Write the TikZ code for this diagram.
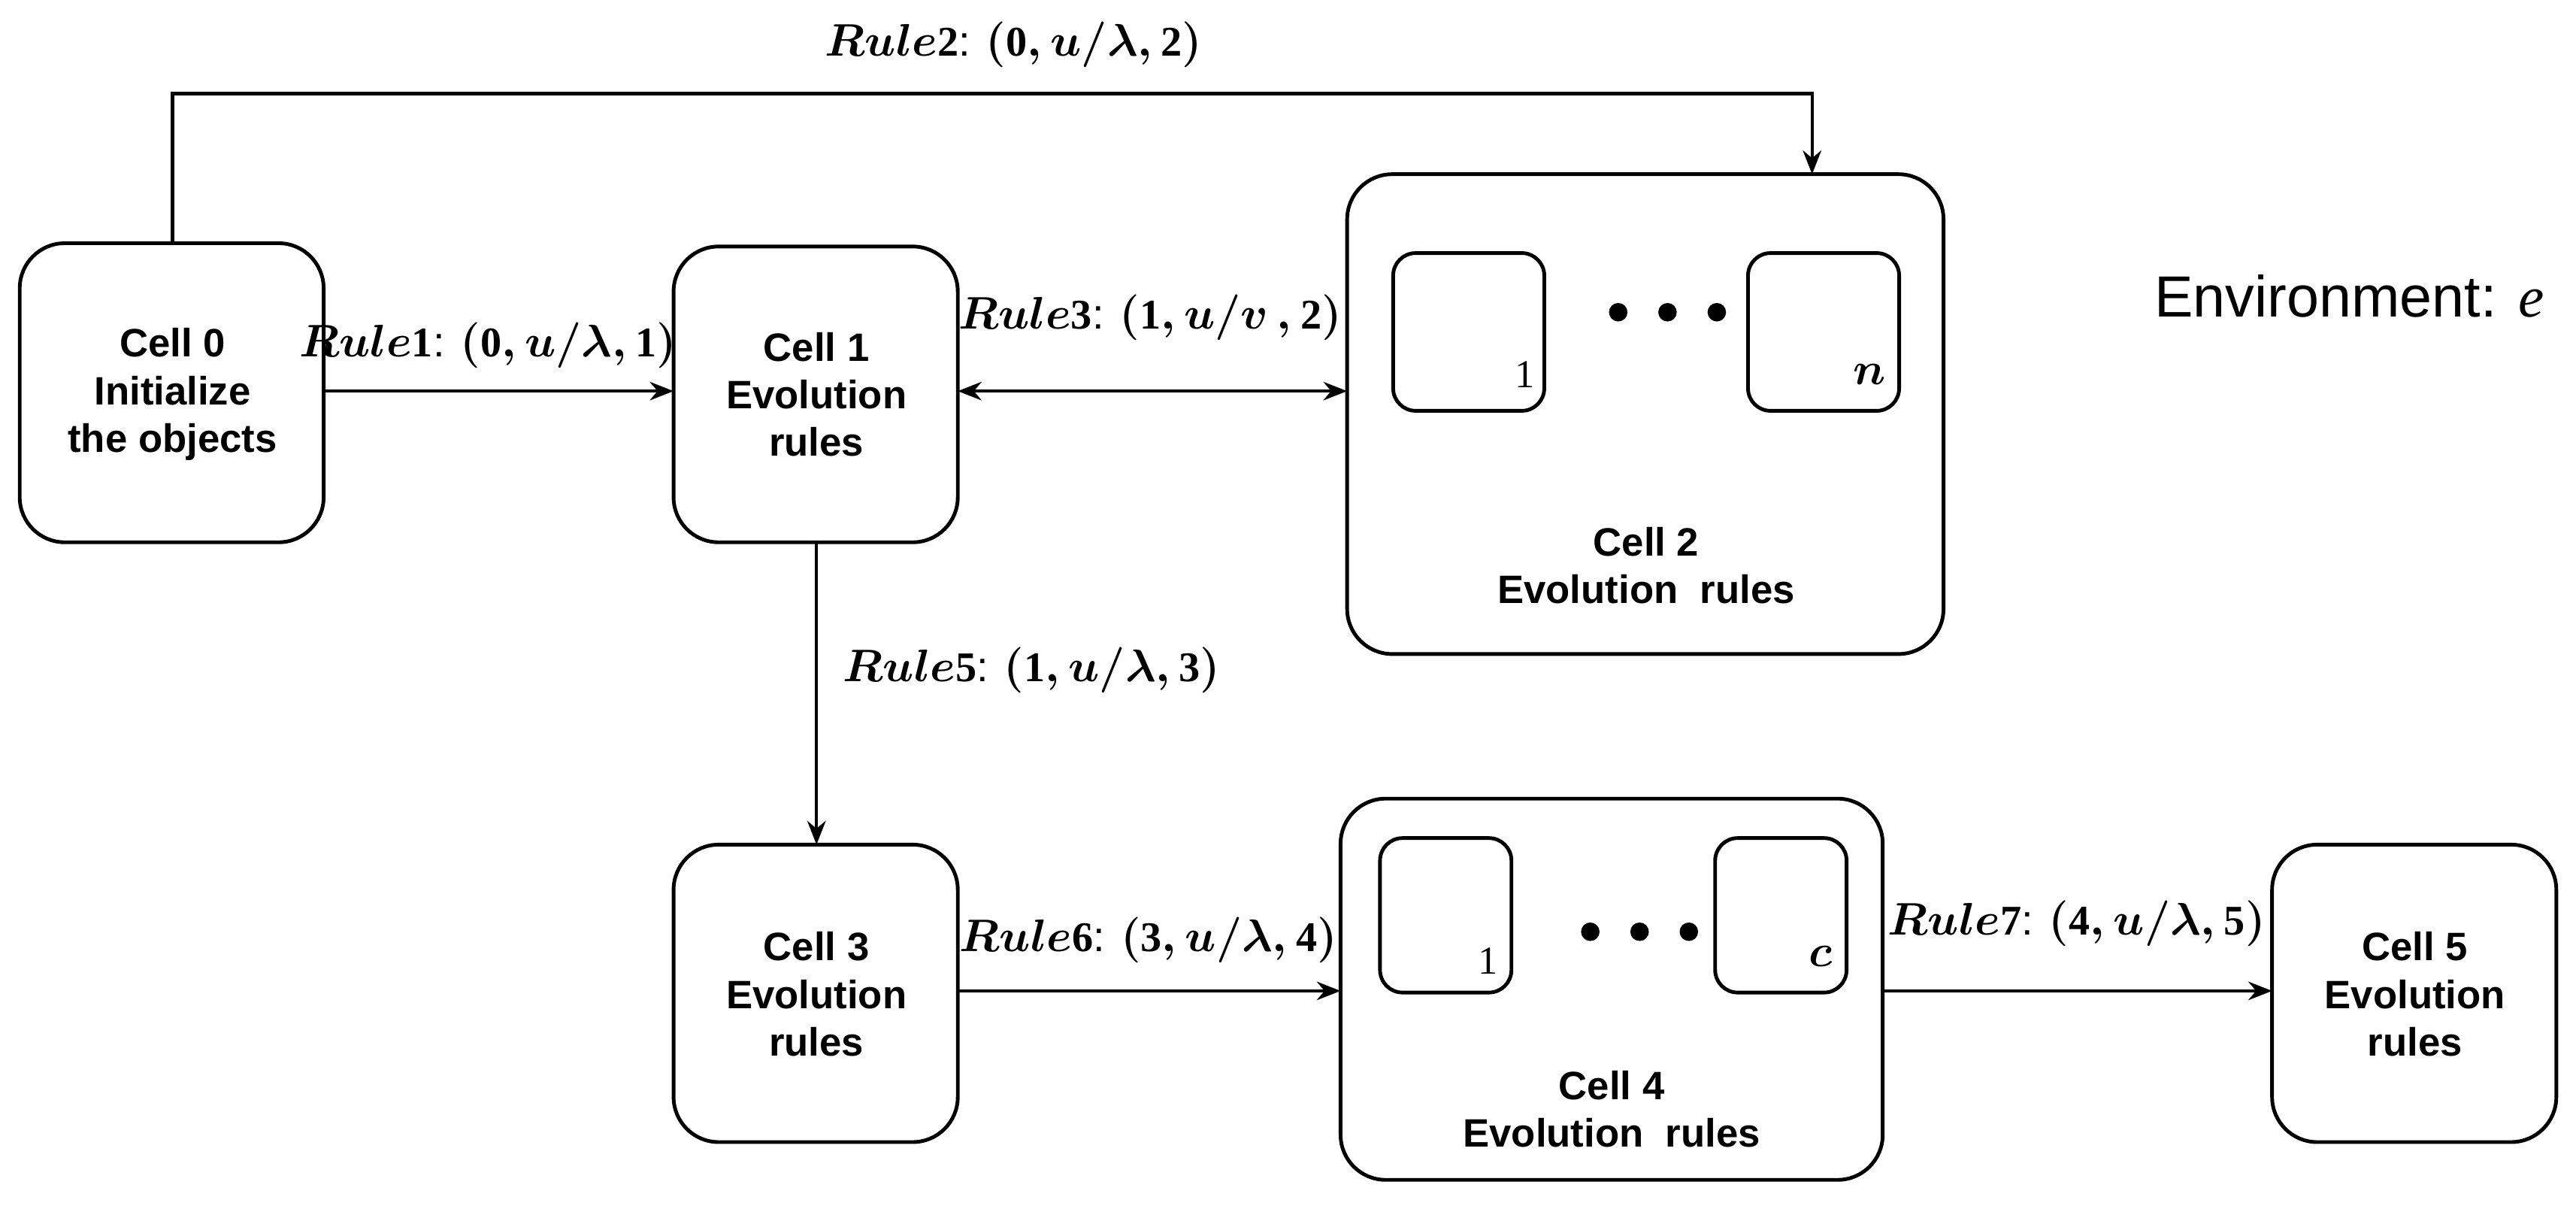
\documentclass[tikz,border=0pt]{standalone}
\usepackage{amsmath,bm}
\usepackage{fontspec}
\setmainfont{Liberation Sans}
\newfontfamily\serifx{Liberation Serif}
\newcommand{\dg}[1]{\text{\serifx\bfseries #1}}
\usetikzlibrary{arrows.meta}
\begin{document}
\begin{tikzpicture}[x=0.02186cm,y=-0.02186cm,
  cell/.style={draw,line width=1.4pt,rounded corners=0.6cm},
  inner/.style={draw,line width=1.4pt,rounded corners=0.3cm},
  txt/.style={font=\fontsize{15}{18}\selectfont\bfseries,align=center},
  lbl/.style={font=\fontsize{16}{18}\selectfont\boldmath},
  arr/.style={line width=1.2pt,-{Stealth[length=9pt,width=7pt]}},
  dot/.style={circle,fill,inner sep=0pt,minimum size=7pt}]
\useasboundingbox (0,0) rectangle (1568,739);
% cells
\draw[cell] (12,148) rectangle (197,330);
\node[txt] (c0) at (105,240) {Cell 0\\Initialize\\the objects};
\coordinate (c0r) at (197,238); \coordinate (c0t) at (105,148);
\draw[cell] (410,150) rectangle (583,330);
\node[txt] (c1) at (497,240) {Cell 1\\Evolution\\rules};
\coordinate (c1l) at (410,238); \coordinate (c1r) at (583,238); \coordinate (c1b) at (497,330);
\draw[cell] (820,106) rectangle (1183,398);
\coordinate (c2l) at (820,238); \coordinate (c2t) at (1103,106);
\draw[inner] (848,154) rectangle (940,250);
\draw[inner] (1064,154) rectangle (1156,250);
\node[font=\fontsize{15}{18}\selectfont\serifx] (n1) at (928,228) {1};
\node[lbl] (nn) at (1138,228) {$n$};
\node[dot] (d1) at (985,190) {}; \node[dot] (d2) at (1015,190) {}; \node[dot] (d3) at (1045,190) {};
\node[txt] (c2) at (1002,344) {Cell 2\\Evolution\ \ rules};
\node[font=\fontsize{22}{26}\selectfont] (env) at (1430,180) {Environment: \serifx\itshape e};
\draw[cell] (410,514) rectangle (583,695);
\node[txt] (c3) at (497,605) {Cell 3\\Evolution\\rules};
\coordinate (c3t) at (497,514); \coordinate (c3r) at (583,603);
\draw[cell] (816,486) rectangle (1146,718);
\coordinate (c4l) at (816,603); \coordinate (c4r) at (1146,603);
\draw[inner] (840,510) rectangle (920,604);
\draw[inner] (1044,510) rectangle (1124,604);
\node[font=\fontsize{15}{18}\selectfont\serifx] (m1) at (906,585) {1};
\node[lbl] (mc) at (1108,582) {$c$};
\node[dot] (e1) at (968,567) {}; \node[dot] (e2) at (998,567) {}; \node[dot] (e3) at (1028,567) {};
\node[txt] (c4) at (981,675) {Cell 4\\Evolution\ \ rules};
\draw[cell] (1383,514) rectangle (1556,695);
\node[txt] (c5) at (1470,605) {Cell 5\\Evolution\\rules};
\coordinate (c5l) at (1383,603);
% arrows
\draw[arr] (c0r) -- (c1l);
\node[lbl] (r1) at (297,210) {$Rule\dg{1}$: $(\dg{0},u/\lambda,\dg{1})$};
\coordinate (k1) at (105,57); \coordinate (k2) at (1103,57);
\draw[arr] (c0t) -- (k1) -- (k2) -- (c2t);
\node[lbl] (r2) at (617,27) {$Rule\dg{2}$: $(\dg{0},u/\lambda,\dg{2})$};
\draw[arr,{Stealth[length=9pt,width=7pt]}-{Stealth[length=9pt,width=7pt]}] (c1r) -- (c2l);
\node[lbl] (r3) at (700,193) {$Rule\dg{3}$: $(\dg{1},u/v\,,\dg{2})$};
\draw[arr] (c1b) -- (c3t);
\node[lbl] (r5) at (628,408) {$Rule\dg{5}$: $(\dg{1},u/\lambda,\dg{3})$};
\draw[arr] (c3r) -- (c4l);
\node[lbl] (r6) at (699,572) {$Rule\dg{6}$: $(\dg{3},u/\lambda,\dg{4})$};
\draw[arr] (c4r) -- (c5l);
\node[lbl] (r7) at (1264,562) {$Rule\dg{7}$: $(\dg{4},u/\lambda,\dg{5})$};
\end{tikzpicture}
\end{document}
